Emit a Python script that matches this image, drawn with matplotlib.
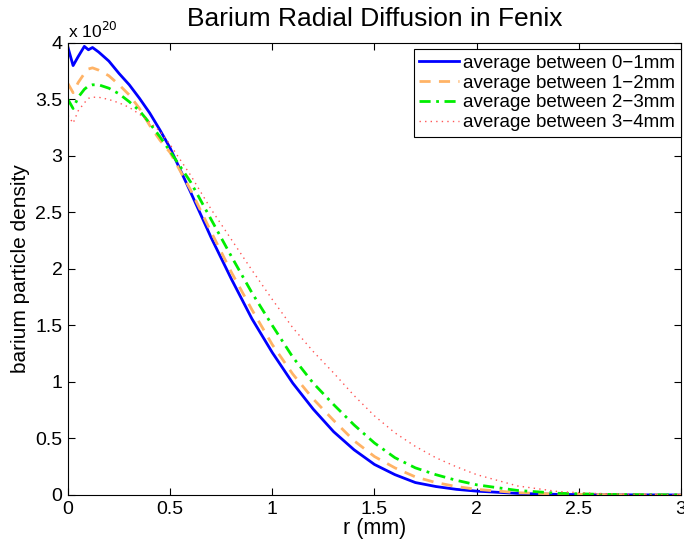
import numpy as np
import matplotlib
matplotlib.use("Agg")
import matplotlib.pyplot as plt
from matplotlib.ticker import FuncFormatter

plt.rcParams['font.family'] = ['Liberation Sans', 'DejaVu Sans']

# radius (mm) and averaged density in units of 1e20
r = [0, 0.025, 0.05, 0.08, 0.1, 0.12, 0.15, 0.2, 0.25, 0.3, 0.35, 0.4, 0.45,
     0.5, 0.6, 0.7, 0.8, 0.9, 1.0, 1.1, 1.2, 1.3, 1.4, 1.5, 1.6, 1.7, 1.8,
     1.9, 2.0, 2.2, 2.4, 2.6, 2.8, 3.0]
dens_0_1 = [3.96, 3.80, 3.88, 3.97, 3.94, 3.96, 3.92, 3.84, 3.73, 3.63, 3.51,
            3.38, 3.23, 3.07, 2.68, 2.28, 1.91, 1.56, 1.26, 0.99, 0.76, 0.56,
            0.40, 0.27, 0.18, 0.11, 0.075, 0.05, 0.034, 0.014, 0.005, 0.002,
            0.001, 0.0]
dens_1_2 = [3.64, 3.56, 3.65, 3.73, 3.77, 3.78, 3.76, 3.71, 3.63, 3.54, 3.42,
            3.27, 3.14, 3.03, 2.70, 2.33, 1.97, 1.64, 1.33, 1.07, 0.85, 0.66,
            0.48, 0.34, 0.24, 0.16, 0.11, 0.075, 0.05, 0.02, 0.008, 0.003,
            0.001, 0.0]
dens_2_3 = [3.50, 3.42, 3.52, 3.59, 3.62, 3.63, 3.63, 3.60, 3.55, 3.48, 3.40,
            3.29, 3.17, 3.04, 2.77, 2.44, 2.11, 1.79, 1.50, 1.22, 0.99, 0.80,
            0.62, 0.46, 0.33, 0.24, 0.18, 0.13, 0.09, 0.04, 0.015, 0.006,
            0.002, 0.001]
dens_3_4 = [3.36, 3.29, 3.40, 3.47, 3.51, 3.52, 3.52, 3.50, 3.47, 3.43, 3.37,
            3.30, 3.22, 3.10, 2.83, 2.53, 2.26, 1.99, 1.73, 1.48, 1.27, 1.08,
            0.88, 0.70, 0.55, 0.43, 0.33, 0.25, 0.18, 0.08, 0.03, 0.012,
            0.005, 0.002]
labels = ['average between 0\u22121mm', 'average between 1\u22122mm',
          'average between 2\u22123mm', 'average between 3\u22124mm']

fig = plt.figure(figsize=(6.84, 5.47), dpi=100)
ax = fig.add_axes([0.0994, 0.0951, 0.8962, 0.8263])

ax.plot(r, dens_0_1, color='#0000FF', lw=2, ls='-', label=labels[0])
ax.plot(r, dens_1_2, color='#FFB366', lw=2, ls=(0, (4, 3)), label=labels[1])
ax.plot(r, dens_2_3, color='#00EE00', lw=2, ls=(0, (4, 2, 1, 2)), label=labels[2])
ax.plot(r, dens_3_4, color='#FF5555', lw=1, ls=(0, (1, 3)), label=labels[3])

ax.set_xlim(0, 3)
ax.set_ylim(0, 4)
ax.set_xticks(np.arange(0, 3.01, 0.5))
ax.set_yticks(np.arange(0, 4.01, 0.5))
fmt = FuncFormatter(lambda v, p: '%g' % v)
ax.xaxis.set_major_formatter(fmt)
ax.yaxis.set_major_formatter(fmt)
ax.tick_params(direction='in', top=True, right=True, length=5, width=0.8,
               labelsize=14, pad=4)
for s in ax.spines.values():
    s.set_linewidth(0.8)

ax.set_xlabel('r (mm)', fontsize=15.5, labelpad=0)
ax.set_ylabel('barium particle density', fontsize=15, labelpad=4)
ax.set_title('Barium Radial Diffusion in Fenix', fontsize=19, pad=12)
ax.text(0.0, 1.005, r'x 10$^{20}$', transform=ax.transAxes, fontsize=12.5,
        ha='left', va='bottom')

leg = ax.legend(loc='upper right', bbox_to_anchor=(1.0, 0.987), borderaxespad=0,
                fontsize=13.5, handlelength=2.1, handletextpad=0.25,
                labelspacing=0.15, borderpad=0.3, fancybox=False, framealpha=1)
leg.get_frame().set_edgecolor('black')
leg.get_frame().set_linewidth(0.8)

plt.savefig('out.png', dpi=100)
